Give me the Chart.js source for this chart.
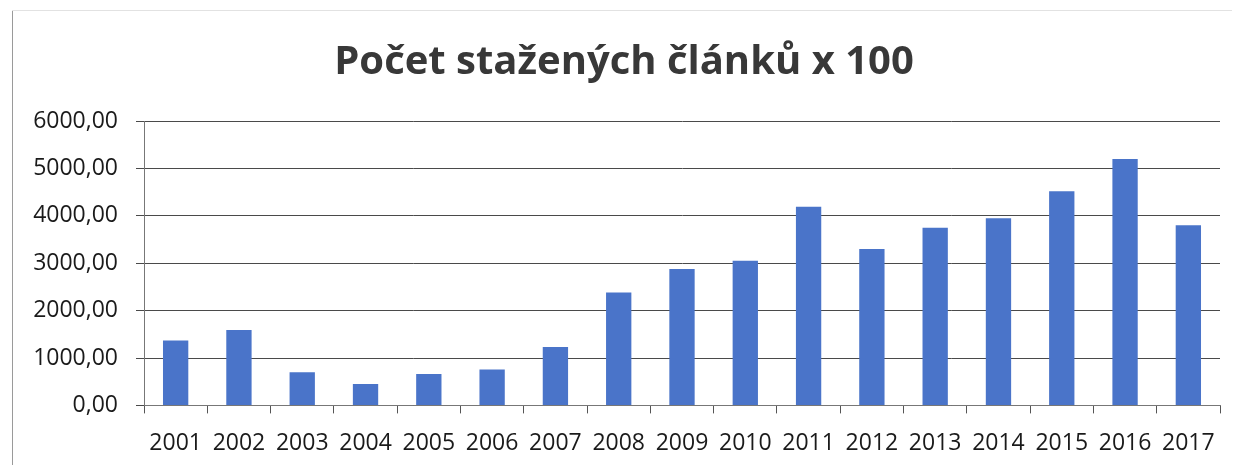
<!DOCTYPE html>
<html>
<head>
<meta charset="utf-8">
<script src="https://cdn.jsdelivr.net/npm/chart.js@4"></script>
<style>
  html, body { margin: 0; padding: 0; background: #fff; }
  #wrap { position: relative; width: 1239px; height: 465px; }
  #frameL { position: absolute; left: 12px; top: 10px; width: 1px; height: 455px; background: #9a9a9a; }
  #frameT { position: absolute; left: 12px; top: 10px; width: 1220px; height: 1px; background: #e2e2e2; }
  canvas { position: absolute; left: 0; top: 0; }
</style>
</head>
<body>
<div id="wrap">
  <canvas id="c" width="1239" height="465"></canvas>
  <div id="frameL"></div>
  <div id="frameT"></div>
</div>
<script>
const titleText = 'Počet stažených článků x 100';
const years = ['2001','2002','2003','2004','2005','2006','2007','2008','2009','2010','2011','2012','2013','2014','2015','2016','2017'];
const downloads = [1370, 1590, 700, 450, 660, 760, 1230, 2380, 2880, 3050, 4190, 3300, 3750, 3950, 4520, 5200, 3800];
const yMin = 0;
const yMax = 6000;
const yStep = 1000;

const FONT = "'Open Sans', 'Noto Sans', sans-serif";

new Chart(document.getElementById('c'), {
  type: 'bar',
  data: {
    labels: years,
    datasets: [{
      data: downloads,
      backgroundColor: '#4a74c9',
      borderWidth: 0,
      barPercentage: 0.4,
      categoryPercentage: 1.0
    }]
  },
  options: {
    responsive: false,
    animation: false,
    layout: { padding: { left: 28, right: 19, top: 0, bottom: -8 } },
    plugins: {
      legend: { display: false },
      tooltip: { enabled: false },
      title: {
        display: true,
        text: titleText,
        color: '#383838',
        font: { family: FONT, size: 40, weight: 'bold' },
        padding: { top: 39, bottom: 34 }
      }
    },
    scales: {
      x: {
        grid: {
          display: true,
          offset: true,
          drawOnChartArea: false,
          drawTicks: true,
          tickLength: 8,
          color: '#555'
        },
        border: { display: true, color: '#777', width: 1 },
        ticks: {
          color: '#1a1a1a',
          font: { family: FONT, size: 23 },
          padding: 16,
          maxRotation: 0,
          autoSkip: false
        }
      },
      y: {
        min: yMin,
        max: yMax,
        afterFit: (s) => { s.width = 116; },
        grid: {
          color: '#4a4a4a',
          lineWidth: 1,
          drawTicks: true,
          tickLength: 8
        },
        border: { display: true, color: '#777', width: 1 },
        ticks: {
          stepSize: yStep,
          color: '#1a1a1a',
          font: { family: FONT, size: 23 },
          padding: 18,
          callback: (v) => Number(v).toFixed(2).replace('.', ',')
        }
      }
    }
  }
});
</script>
</body>
</html>
